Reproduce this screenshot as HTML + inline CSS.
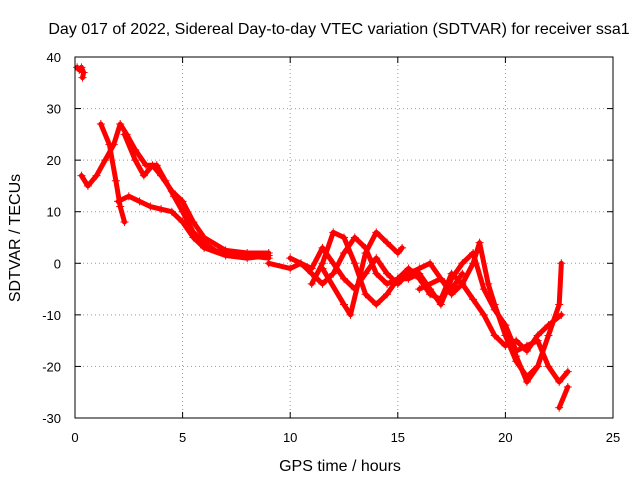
<!DOCTYPE html>
<html><head><meta charset="utf-8"><style>
body{margin:0;background:#fff;}
svg text{font-family:"Liberation Sans",sans-serif;font-size:13px;fill:#000;}
svg text.big{font-size:16px;}
</style></head><body>
<svg id="chart" width="640" height="480">
<rect width="640" height="480" fill="#fff"/>
<text class="big" x="339" y="34" text-anchor="middle">Day 017 of 2022, Sidereal Day-to-day VTEC variation (SDTVAR) for receiver ssa1</text>
<g id="grid"></g>
<g id="ticks"></g>
<g id="series"></g>
<rect x="75" y="57" width="538" height="361" fill="none" stroke="#000"/>
<text class="big" x="340" y="471" text-anchor="middle">GPS time / hours</text>
<text class="big" transform="translate(20,238) rotate(-90)" text-anchor="middle">SDTVAR / TECUs</text>
</svg>
<script>
const xTicks=[0,5,10,15,20,25];
const yTicks=[-30,-20,-10,0,10,20,30,40];
const trackA=[[0.1,38],[0.2,37.5],[0.3,38],[0.4,37],[0.35,36]];
const trackB=[[0.3,17],[0.6,15],[1.0,17],[1.4,20],[1.8,23],[2.1,27],[2.4,25],[2.8,22],[3.3,19],[3.8,19],[4.2,16],[4.6,13],[5.0,10],[5.5,6],[6.0,4],[6.5,2.5],[7.0,2],[8.0,1.5],[9.0,1]];
const trackC=[[1.2,27],[1.6,23],[1.9,16],[2.1,11],[2.3,8]];
const trackD=[[2.0,12],[2.5,13],[3.0,12],[3.5,11],[4.0,10.5],[4.5,10],[5.0,8],[5.5,5],[6.0,3],[7.0,1.5],[8.0,1],[9.0,1.5]];
const trackE=[[2.3,25],[2.8,20],[3.2,17],[3.6,19],[4.0,17],[4.5,14],[5.0,12],[5.5,8],[6,5],[7,2.5],[8,2],[9,2]];
const trackF=[[9,0],[10,-1],[10.5,0],[11,-2],[11.5,-4],[12,-2],[12.5,2],[13,5],[13.5,3],[14,-2],[14.5,-4],[15,-3],[15.5,-3],[16,-2],[16.5,-5],[17,-8],[17.5,-3],[18,0],[18.5,2],[19,-5],[19.5,-9],[20,-12],[20.5,-17],[21,-16],[21.5,-15],[22,-20],[22.5,-23],[22.9,-21]];
const trackG=[[10,1],[11,-1],[11.5,3],[12,0],[12.5,-3],[13,-5],[13.5,-2],[14,1],[14.5,-2],[15,-4],[15.5,-2],[16,-1],[16.5,0],[17,-3],[17.5,-6],[18,-4],[18.5,0],[18.8,4],[19.2,-4],[19.5,-8],[20,-14],[20.5,-19],[21,-22],[21.5,-20],[22,-14],[22.5,-8],[22.6,0]];
const trackH=[[11,-4],[11.5,0],[12,6],[12.5,5],[13,0],[13.5,-6],[14,-8],[14.5,-6],[15,-3],[15.5,-1],[16,-3],[16.5,-6],[17,-7],[17.5,-2],[18,-4],[18.5,-7],[19,-10],[19.5,-14],[20,-16],[20.5,-15],[21,-17],[21.5,-14],[22,-12],[22.6,-10]];
const trackI1=[[11.5,-1],[12.5,-8],[12.8,-10],[13.5,2],[14,6],[14.5,4],[15,2],[15.2,3]];
const trackI2=[[16,-5],[17,-3],[17.5,-5],[18,-2]];
const trackI3=[[20,-12],[20.5,-18],[21,-23],[21.5,-20]];
const trackI4=[[22.5,-28],[22.9,-24]];
const tracks=[trackA,trackB,trackC,trackD,trackE,trackF,trackG,trackH,trackI1,trackI2,trackI3,trackI4];
const NS='http://www.w3.org/2000/svg';
const X0=75,X1=613,Y0=418,Y1=57;
function sx(t){return X0+(t-0)/(25-0)*(X1-X0);}
function sy(v){return Y0-(v+30)/(40+30)*(Y0-Y1);}
const grid=document.getElementById('grid'),ticks=document.getElementById('ticks'),ser=document.getElementById('series');
function mk(tag,attrs,parent){const e=document.createElementNS(NS,tag);for(const k in attrs)e.setAttribute(k,attrs[k]);parent.appendChild(e);return e;}
xTicks.forEach(t=>{
 const x=sx(t);
 if(t>0&&t<25){const g=mk('line',{x1:x,x2:x,y1:Y1,y2:Y0,stroke:'#999','stroke-dasharray':'1,3'},grid);
 
 }
 mk('line',{x1:x,x2:x,y1:Y0,y2:Y0-6,stroke:'#000'},ticks);mk('line',{x1:x,x2:x,y1:Y1,y2:Y1+6,stroke:'#000'},ticks);
 const l=mk('text',{x:x,y:442,'text-anchor':'middle'},ticks);l.textContent=t;
 
 
});
yTicks.forEach(v=>{
 const y=sy(v);
 if(v>-30&&v<40){const g=mk('line',{x1:X0,x2:X1,y1:y,y2:y,stroke:'#999','stroke-dasharray':'1,3'},grid);
 
 }
 mk('line',{x1:X0,x2:X0+6,y1:y,y2:y,stroke:'#000'},ticks);mk('line',{x1:X1,x2:X1-6,y1:y,y2:y,stroke:'#000'},ticks);
 const l=mk('text',{x:61,y:y+5,'text-anchor':'end'},ticks);l.textContent=v;
 
 
});
tracks.forEach(tr=>{
 const p=mk('polyline',{points:tr.map(d=>sx(d[0])+','+sy(d[1])).join(' '),fill:'none',stroke:'#f00','stroke-width':5,'stroke-linejoin':'round','stroke-linecap':'round'},ser);
 
 
 tr.forEach(d=>{
  const x=sx(d[0]),y=sy(d[1]);
  const m=mk('path',{d:`M${x-4},${y}h8M${x},${y-4}v8`,stroke:'#f00','stroke-width':1},ser);
  
  
 });
});
</script>
</body></html>
